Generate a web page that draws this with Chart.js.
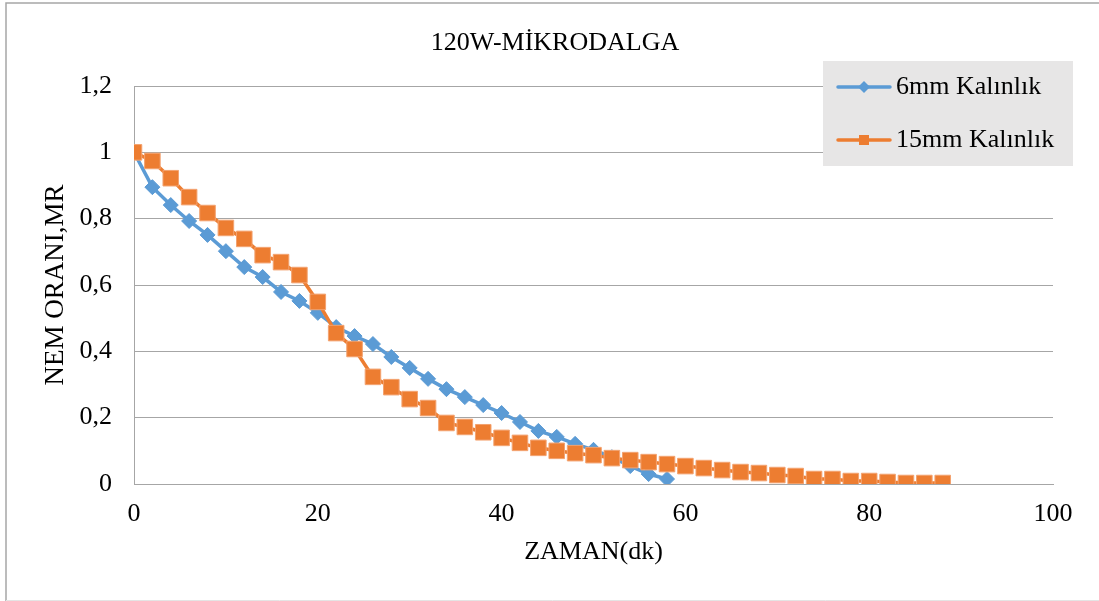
<!DOCTYPE html>
<html>
<head>
<meta charset="utf-8">
<title>120W-MİKRODALGA</title>
<script src="https://cdn.jsdelivr.net/npm/chart.js@4/dist/chart.umd.min.js"></script>
<style>
  html, body { margin: 0; padding: 0; background: #ffffff; }
  #wrap { width: 1099px; height: 601px; }
</style>
</head>
<body>
<div id="wrap"><canvas id="mr" width="1099" height="601"></canvas></div>
<script>
// Drying time (minutes) and moisture ratio for each slice thickness
const chartTitle = '120W-MİKRODALGA';
const xTitle = 'ZAMAN(dk)';
const yTitle = 'NEM ORANI,MR';
const seriesNames = ['6mm Kalınlık', '15mm Kalınlık'];

const time6mm = [0, 2, 4, 6, 8, 10, 12, 14, 16, 18, 20, 22, 24, 26, 28, 30, 32, 34, 36, 38,
  40, 42, 44, 46, 48, 50, 52, 54, 56, 58];
const mr6mm = [1.0, 0.895, 0.841, 0.793, 0.751, 0.702, 0.654, 0.624, 0.579, 0.552,
  0.516, 0.473, 0.446, 0.422, 0.383, 0.350, 0.317, 0.286, 0.262, 0.238,
  0.214, 0.187, 0.160, 0.142, 0.121, 0.103, 0.081, 0.054, 0.030, 0.015];

const time15mm = [0, 2, 4, 6, 8, 10, 12, 14, 16, 18, 20, 22, 24, 26, 28, 30, 32, 34, 36, 38,
  40, 42, 44, 46, 48, 50, 52, 54, 56, 58, 60, 62, 64, 66, 68, 70, 72, 74, 76, 78,
  80, 82, 84, 86, 88];
const mr15mm = [1.0, 0.974, 0.922, 0.865, 0.817, 0.772, 0.739, 0.690, 0.669, 0.630,
  0.549, 0.455, 0.407, 0.323, 0.292, 0.256, 0.229, 0.184, 0.172, 0.156,
  0.139, 0.124, 0.109, 0.100, 0.093, 0.087, 0.078, 0.072, 0.066, 0.060,
  0.054, 0.048, 0.042, 0.036, 0.033, 0.027, 0.024, 0.015, 0.015, 0.009,
  0.009, 0.006, 0.003, 0.003, 0.003];

const xTickValues = [0, 20, 40, 60, 80, 100];
const yTickValues = [0, 0.2, 0.4, 0.6, 0.8, 1.0, 1.2];
const yTickLabels = ['0', '0,2', '0,4', '0,6', '0,8', '1', '1,2'];

const FONT = "'Liberation Serif', 'Times New Roman', serif";
const BLUE = '#5b9bd5';
const ORANGE = '#ed7d31';
const GRID = '#a6a6a6';

function toPoints(xs, ys) {
  return xs.map((x, i) => ({ x: x, y: ys[i] }));
}

// White page with the thin frame around the whole figure, plus the heading
const framePlugin = {
  id: 'frame',
  beforeDraw(chart) {
    const ctx = chart.ctx;
    ctx.save();
    ctx.fillStyle = '#ffffff';
    ctx.fillRect(0, 0, chart.width, chart.height);
    ctx.strokeStyle = '#a6a6a6';
    ctx.lineWidth = 1.5;
    ctx.beginPath();
    ctx.moveTo(6, chart.height);
    ctx.lineTo(6, 3);
    ctx.lineTo(chart.width, 3);
    ctx.stroke();
    ctx.strokeStyle = '#e4e4e4';
    ctx.lineWidth = 1;
    ctx.beginPath();
    ctx.moveTo(6, chart.height - 0.5);
    ctx.lineTo(chart.width, chart.height - 0.5);
    ctx.stroke();
    ctx.restore();
  },
  afterDraw(chart) {
    const ctx = chart.ctx;
    ctx.save();
    ctx.fillStyle = '#000000';
    ctx.font = '26px ' + FONT;
    ctx.textAlign = 'center';
    ctx.textBaseline = 'middle';
    ctx.fillText(chartTitle, 555, 43);
    ctx.restore();
  }
};

// Grey legend panel in the upper right of the plot
function drawMarker(ctx, style, x, y, r, color) {
  ctx.fillStyle = color;
  ctx.beginPath();
  if (style === 'rectRot') {
    ctx.moveTo(x, y - r);
    ctx.lineTo(x + r, y);
    ctx.lineTo(x, y + r);
    ctx.lineTo(x - r, y);
    ctx.closePath();
  } else {
    ctx.rect(x - r, y - r, 2 * r, 2 * r);
  }
  ctx.fill();
}

const legendPanel = {
  id: 'legendPanel',
  afterDatasetsDraw(chart) {
    const ctx = chart.ctx;
    const box = { x: 823, y: 61, w: 250, h: 105 };
    const rows = [87, 140];
    ctx.save();
    ctx.fillStyle = '#e7e6e6';
    ctx.fillRect(box.x, box.y, box.w, box.h);
    const ordered = chart.data.datasets.slice().sort((a, b) => a.legendRank - b.legendRank);
    ordered.forEach((ds, i) => {
      const y = rows[i];
      ctx.strokeStyle = ds.borderColor;
      ctx.lineWidth = 3.5;
      ctx.lineCap = 'round';
      ctx.beginPath();
      ctx.moveTo(838, y);
      ctx.lineTo(890, y);
      ctx.stroke();
      drawMarker(ctx, ds.pointStyle, 864, y, ds.pointStyle === 'rectRot' ? 6 : 5, ds.backgroundColor);
      ctx.fillStyle = '#000000';
      ctx.font = '26px ' + FONT;
      ctx.textAlign = 'left';
      ctx.textBaseline = 'middle';
      ctx.fillText(ds.label, 896, y);
    });
    ctx.restore();
  }
};

new Chart(document.getElementById('mr'), {
  type: 'line',
  data: {
    datasets: [
      {
        label: seriesNames[1],
        legendRank: 1,
        data: toPoints(time15mm, mr15mm),
        borderColor: ORANGE,
        backgroundColor: ORANGE,
        borderWidth: 3.5,
        pointStyle: 'rect',
        pointRadius: 11,
        pointBorderWidth: 1,
        pointBorderColor: '#f3a26f',
        pointBackgroundColor: ORANGE,
        tension: 0,
        order: 0
      },
      {
        label: seriesNames[0],
        legendRank: 0,
        data: toPoints(time6mm, mr6mm),
        borderColor: BLUE,
        backgroundColor: BLUE,
        borderWidth: 3.5,
        pointStyle: 'rectRot',
        pointRadius: 7.5,
        pointBorderWidth: 1,
        pointBorderColor: BLUE,
        pointBackgroundColor: BLUE,
        tension: 0,
        order: 1
      }
    ]
  },
  options: {
    responsive: false,
    animation: false,
    layout: { padding: { left: 0, right: 46, top: 86, bottom: 0 } },
    plugins: {
      legend: { display: false },
      title: { display: false },
      tooltip: { enabled: false }
    },
    scales: {
      x: {
        type: 'linear',
        min: 0,
        max: 100,
        afterFit(scale) { scale.height = 117; },
        afterBuildTicks(scale) { scale.ticks = xTickValues.map(v => ({ value: v })); },
        ticks: {
          padding: 15,
          maxRotation: 0,
          autoSkip: false,
          color: '#000000',
          font: { family: FONT, size: 26 },
          callback: (v) => String(v)
        },
        grid: { display: false, drawTicks: false },
        border: { display: true, color: GRID, width: 1 },
        title: {
          display: true,
          text: xTitle,
          color: '#000000',
          font: { family: FONT, size: 26 },
          padding: { top: 0, bottom: 33 }
        }
      },
      y: {
        type: 'linear',
        min: 0,
        max: 1.2,
        afterFit(scale) { scale.width = 134; },
        afterBuildTicks(scale) { scale.ticks = yTickValues.map(v => ({ value: v })); },
        ticks: {
          padding: 22,
          autoSkip: false,
          color: '#000000',
          font: { family: FONT, size: 26 },
          callback: (v, i) => yTickLabels[i]
        },
        grid: { color: GRID, lineWidth: 1, drawTicks: false },
        border: { display: true, color: GRID, width: 1 },
        title: {
          display: true,
          text: yTitle,
          color: '#000000',
          font: { family: FONT, size: 27 },
          padding: { top: 40, bottom: 0 }
        }
      }
    }
  },
  plugins: [framePlugin, legendPanel]
});
</script>
</body>
</html>
